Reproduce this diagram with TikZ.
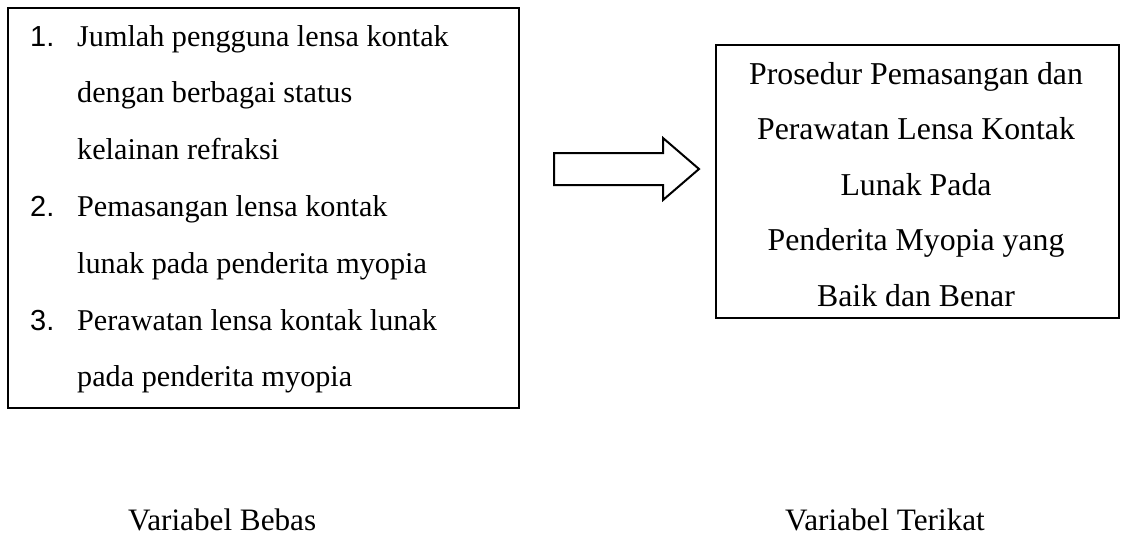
\documentclass[tikz,border=0pt]{standalone}
\usepackage{fontspec}
\setmainfont{Liberation Serif}
\newfontfamily\arialfont{Liberation Sans}
\begin{document}
\begin{tikzpicture}[x=1pt,y=-1pt,
  box/.style={draw=black,line width=2.2pt,rectangle,inner sep=0pt,anchor=north west},
  txt/.style={inner sep=0pt,anchor=base west,font=\fontsize{30.2}{30.2}\selectfont},
  num/.style={inner sep=0pt,anchor=base west,font=\arialfont\fontsize{29}{29}\selectfont},
  ctxt/.style={inner sep=0pt,anchor=base,font=\fontsize{31.8}{31.8}\selectfont},
  lbl/.style={inner sep=0pt,anchor=base west,font=\fontsize{31.2}{31.2}\selectfont},
  blockarrow/.style={draw=black,line width=2pt,line join=miter,fill=white}]
\useasboundingbox (0,0) rectangle (1121,536);
% left box
\node[box,minimum width=511pt,minimum height=400pt] (leftbox) at (7,7) {};
\node[num] (n1) at (30,46) {1.};
\node[txt] (l1) at (77,46) {Jumlah pengguna lensa kontak};
\node[txt] (l2) at (77,102.8) {dengan berbagai status};
\node[txt] (l3) at (77,159.6) {kelainan refraksi};
\node[num] (n2) at (30,216.4) {2.};
\node[txt] (l4) at (77,216.4) {Pemasangan lensa kontak};
\node[txt] (l5) at (77,273.2) {lunak pada penderita myopia};
\node[num] (n3) at (30,330) {3.};
\node[txt] (l6) at (77,330) {Perawatan lensa kontak lunak};
\node[txt] (l7) at (77,386.8) {pada penderita myopia};
% arrow
\draw[blockarrow] (554,153) -- (663,153) -- (663,138) -- (699,169) -- (663,200) -- (663,185) -- (554,185) -- cycle;
% right box
\node[box,minimum width=403pt,minimum height=273pt] (rightbox) at (715,44) {};
\node[ctxt] (r1) at (916,84) {Prosedur Pemasangan dan};
\node[ctxt] (r2) at (916,139.5) {Perawatan Lensa Kontak};
\node[ctxt] (r3) at (916,195) {Lunak Pada};
\node[ctxt] (r4) at (916,250.5) {Penderita Myopia yang};
\node[ctxt] (r5) at (916,306) {Baik dan Benar};
% labels
\node[lbl] (bebas) at (128,530) {Variabel Bebas};
\node[lbl] (terikat) at (785,530) {Variabel Terikat};
\end{tikzpicture}
\end{document}
